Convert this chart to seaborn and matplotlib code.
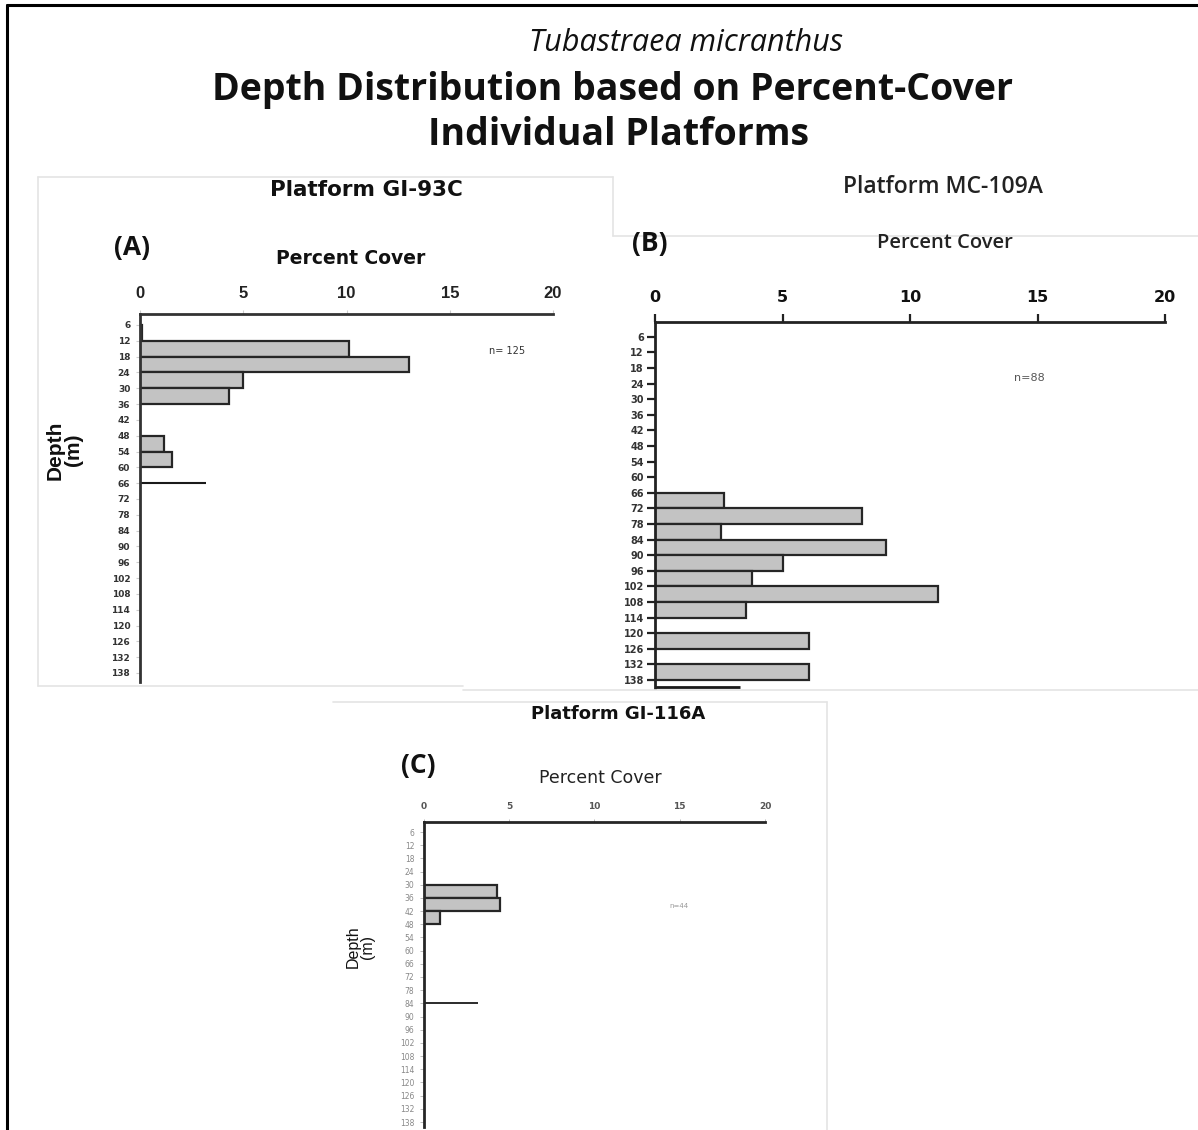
import numpy as np
import pandas as pd
import matplotlib
matplotlib.use("Agg")
import matplotlib.pyplot as plt
from matplotlib.lines import Line2D
import seaborn as sns

# ---------------- data ----------------
depth_ticks = [6, 12, 18, 24, 30, 36, 42, 48, 54, 60, 66, 72, 78, 84, 90, 96,
               102, 108, 114, 120, 126, 132, 138]
cover_ticks = [0, 5, 10, 15, 20]

# bins are labelled by their shallow edge (bin spans edge .. edge+6 m)
a_bin_from = [6, 12, 18, 24, 30, 48, 54]
a_cover = [0.12, 10.1, 13.05, 5.0, 4.3, 1.15, 1.55]
a_line_depth, a_line_len = 66, 3.2
a_n = "n= 125"

b_bin_from = [66, 72, 78, 84, 90, 96, 102, 108, 120, 132]
b_cover = [2.7, 8.1, 2.6, 9.05, 5.0, 3.8, 11.1, 3.55, 6.05, 6.05]
b_line_depth, b_line_len = 140.8, 3.35
b_n = "n=88"

c_bin_from = [30, 36, 42]
c_cover = [4.3, 4.45, 0.95]
c_line_depth, c_line_len = 84, 3.15
c_n = "n=44"

titles = ["Platform GI-93C", "Platform MC-109A", "Platform GI-116A"]
letters = ["(A)", "(B)", "(C)"]

# ---------------- figure ----------------
W, H = 1198, 1130
sns.set_theme(style="white")
plt.rcParams['font.family'] = ['DejaVu Sans']
fig = plt.figure(figsize=(W / 100, H / 100), dpi=100)
fig.patch.set_facecolor("white")


def fx(x):
    return x / W


def fy(y):
    return 1 - y / H


def make_ax(x0, y0, x1, y1, t6, t138):
    ax = fig.add_axes([fx(x0), fy(y1), (x1 - x0) / W, (y1 - y0) / H])
    ppm = (t138 - t6) / 132.0
    top = 6 - (t6 - y0) / ppm
    bot = 138 + (y1 - t138) / ppm
    return ax, (bot, top)


def draw_panel(ax, ylim, bins, cover, line_d, line_l, style):
    df = pd.DataFrame({"depth": np.array(bins) + 3.0, "cover": cover})
    sns.barplot(data=df, x="cover", y="depth", orient="h", native_scale=True,
                width=1.0, color="#c3c3c3", edgecolor="#262626",
                linewidth=style["barlw"], saturation=1, ax=ax, errorbar=None)
    ax.plot([0, line_l], [line_d, line_d], color="#1a1a1a",
            lw=style["linelw"], solid_capstyle="butt", clip_on=False)
    ax.set_xlim(0, 20)
    ax.set_ylim(*ylim)
    ax.set_facecolor("none")
    ax.xaxis.tick_top()
    ax.set_xticks(cover_ticks)
    ax.set_yticks(depth_ticks)
    ax.set_xticklabels([str(v) for v in cover_ticks])
    ax.set_yticklabels([str(v) for v in depth_ticks])
    ax.set_xlabel("")
    ax.set_ylabel("")
    for s in ["right", "bottom"]:
        ax.spines[s].set_visible(False)
    for s in ["top", "left"]:
        ax.spines[s].set_visible(True)
        ax.spines[s].set_color(style["spinec"])
        ax.spines[s].set_linewidth(style["spinelw"])
    ax.tick_params(axis="x", top=True, bottom=False, labeltop=True,
                   labelbottom=False, length=style["xtl"], width=style["tw"],
                   color=style["tc"], pad=style["xpad"])
    ax.tick_params(axis="y", left=True, length=style["ytl"], width=style["tw"],
                   color=style["tc"], pad=style["ypad"])
    for t in ax.get_xticklabels():
        t.set_fontfamily(style["xff"])
        t.set_fontsize(style["xfs"])
        t.set_fontweight(style["xfw"])
        t.set_color(style["xfc"])
    for t in ax.get_yticklabels():
        t.set_fontfamily(style["yff"])
        t.set_fontsize(style["yfs"])
        t.set_fontweight(style["yfw"])
        t.set_color(style["yfc"])
    ax.grid(False)


# faint outlines of pasted panels
faint = "#e4e4e4"
for (xs, ys) in [([38, 613], [177, 177]), ([38, 38], [177, 686]),
                 ([38, 463], [686, 686]), ([613, 613], [177, 236]),
                 ([613, 1198], [236, 236]), ([463, 1198], [690, 690]),
                 ([333, 827], [702, 702]), ([827, 827], [702, 1130])]:
    fig.add_artist(Line2D([fx(x) for x in xs], [fy(y) for y in ys],
                          color=faint, lw=1.2))

# Panel A
axA, limA = make_ax(140, 314, 553, 682, 325, 673)
draw_panel(axA, limA, a_bin_from, a_cover, a_line_depth, a_line_len,
           dict(barlw=1.6, linelw=1.5, spinec="#333333", spinelw=2.0,
                xtl=3, ytl=3, tw=0.8, tc="#cccccc", xpad=6, ypad=4,
                xff="Liberation Sans", xfs=12, xfw="bold", xfc="#222222",
                yff="DejaVu Sans", yfs=6.5, yfw="bold", yfc="#333333"))

# Panel B
axB, limB = make_ax(655, 322, 1165, 688, 336.7, 680)
draw_panel(axB, limB, b_bin_from, b_cover, b_line_depth, b_line_len,
           dict(barlw=1.6, linelw=2.0, spinec="#222222", spinelw=2.0,
                xtl=6, ytl=6, tw=1.6, tc="#222222", xpad=6, ypad=2,
                xff="DejaVu Sans", xfs=11.5, xfw="bold", xfc="#111111",
                yff="DejaVu Sans", yfs=7, yfw="bold", yfc="#333333"))

# Panel C
axC, limC = make_ax(424, 822, 765, 1127, 832, 1122)
draw_panel(axC, limC, c_bin_from, c_cover, c_line_depth, c_line_len,
           dict(barlw=1.6, linelw=1.3, spinec="#262626", spinelw=2.0,
                xtl=2, ytl=3, tw=0.7, tc="#bbbbbb", xpad=6, ypad=4,
                xff="DejaVu Sans", xfs=6.5, xfw="bold", xfc="#555555",
                yff="DejaVu Sans", yfs=5.5, yfw="normal", yfc="#888888"))

# ---------------- texts ----------------
fig.text(fx(686), fy(43), "Tubastraea micranthus", ha="center", va="center",
         fontfamily="Open Sans", fontstyle="italic", fontsize=22, color="#111111")
fig.text(fx(613), fy(90), "Depth Distribution based on Percent-Cover",
         ha="center", va="center", fontfamily="Open Sans", fontweight="bold",
         fontsize=27, color="#111111")
fig.text(fx(619), fy(135), "Individual Platforms", ha="center", va="center",
         fontfamily="Open Sans", fontweight="bold", fontsize=27, color="#111111")

fig.text(fx(366), fy(190), titles[0], ha="center", va="center",
         fontfamily="DejaVu Sans", fontweight="bold", fontsize=15.5, color="#111111")
fig.text(fx(943), fy(187), titles[1], ha="center", va="center",
         fontfamily="Open Sans", fontweight="semibold", fontsize=16.5, color="#222222")
fig.text(fx(618), fy(714), titles[2], ha="center", va="center",
         fontfamily="DejaVu Sans", fontweight="bold", fontsize=13, color="#111111")

fig.text(fx(132), fy(247), letters[0], ha="center", va="center",
         fontfamily="Open Sans", fontweight="bold", fontsize=19, color="#111111")
fig.text(fx(650), fy(244), letters[1], ha="center", va="center",
         fontfamily="Open Sans", fontweight="bold", fontsize=19, color="#111111")
fig.text(fx(418), fy(766), letters[2], ha="center", va="center",
         fontfamily="Open Sans", fontweight="bold", fontsize=19, color="#111111")

fig.text(fx(351), fy(258), "Percent Cover", ha="center", va="center",
         fontfamily="DejaVu Sans", fontweight="bold", fontsize=13.5, color="#111111")
fig.text(fx(945), fy(243), "Percent Cover", ha="center", va="center",
         fontfamily="Open Sans", fontweight="semibold", fontsize=14.5, color="#222222")
fig.text(fx(600), fy(778), "Percent Cover", ha="center", va="center",
         fontfamily="DejaVu Sans", fontsize=12.5, color="#222222")

fig.text(fx(64), fy(450), "Depth\n(m)", ha="center", va="center", rotation=90,
         fontfamily="Liberation Sans", fontweight="bold", fontsize=15,
         linespacing=0.95, color="#111111")
fig.text(fx(360), fy(947), "Depth\n(m)", ha="center", va="center", rotation=90,
         fontfamily="Liberation Sans", fontsize=11.5, linespacing=0.95,
         color="#111111")

fig.text(fx(507), fy(351), a_n, ha="center", va="center",
         fontfamily="DejaVu Sans", fontsize=7, color="#333333")
fig.text(fx(1029), fy(378), b_n, ha="center", va="center",
         fontfamily="DejaVu Sans", fontsize=8, color="#555555")
fig.text(fx(679), fy(906), c_n, ha="center", va="center",
         fontfamily="DejaVu Sans", fontsize=5, color="#999999")

# outer frame
for (xs, ys) in [([7, 7], [5, 1130]), ([7, 1198], [5, 5])]:
    fig.add_artist(Line2D([fx(x) for x in xs], [fy(y) for y in ys],
                          color="black", lw=2.2))

fig.savefig("out.png", dpi=100, facecolor="white")
